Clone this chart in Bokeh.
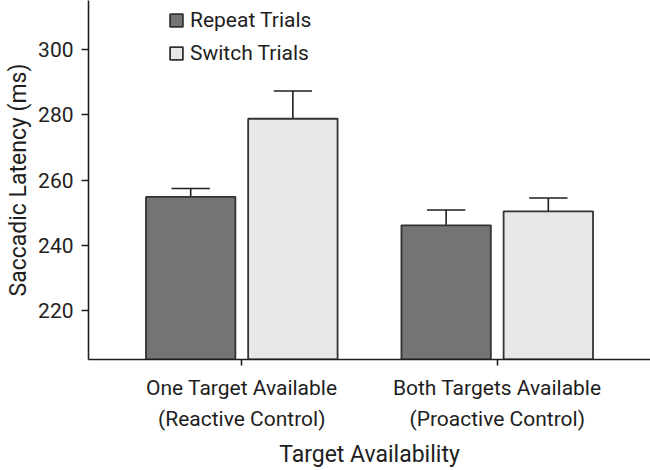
from bokeh.plotting import figure
from bokeh.models import Range1d, FixedTicker, Legend, LegendItem, ColumnDataSource
from bokeh.embed import file_html
from bokeh.resources import INLINE

categories = ["One Target Available\n(Reactive Control)", "Both Targets Available\n(Proactive Control)"]
series_names = ["Repeat Trials", "Switch Trials"]
repeat = [254.8, 246.1]
switch = [278.8, 250.4]
repeat_err = [2.6, 4.7]
switch_err = [8.5, 4.1]
y_ticks = [220, 240, 260, 280, 300]

FONT = "Roboto"
INK = "#1e1e1e"
Y0, Y1 = 204.94, 315.07

p = figure(width=650, height=470, output_backend="svg", toolbar_location=None,
           x_range=Range1d(0.4, 2.6), y_range=Range1d(Y0, Y1),
           min_border_left=88, min_border_right=0, min_border_top=0, min_border_bottom=110)
p.outline_line_color = None
p.xgrid.visible = False
p.ygrid.visible = False
p.background_fill_color = "white"
p.border_fill_color = "white"

centers = [i + 1 for i in range(len(categories))]
off, bw, cap = 0.2, 0.35, 0.075

def draw(vals, errs, dx, color):
    xs = [c + dx for c in centers]
    src = ColumnDataSource(dict(x=xs, top=vals, up=[v + e for v, e in zip(vals, errs)],
                                cl=[x - cap for x in xs], cr=[x + cap for x in xs]))
    p.segment(x0="x", y0="top", x1="x", y1="up", source=src, line_color=INK, line_width=1.6)
    p.segment(x0="cl", y0="up", x1="cr", y1="up", source=src, line_color=INK, line_width=1.6)
    r = p.vbar(x="x", top="top", bottom=Y0, width=bw, source=src,
               fill_color=color, line_color="#333333", line_width=1.8)
    return r

r1 = draw(repeat, repeat_err, -off, "#747474")
r2 = draw(switch, switch_err, off, "#e8e8e8")

legend = Legend(items=[LegendItem(label=series_names[0], renderers=[r1]),
                       LegendItem(label=series_names[1], renderers=[r2])],
                location=(80, 293), orientation="vertical")
legend.background_fill_alpha = 0
legend.border_line_color = None
legend.padding = 0
legend.margin = 0
legend.spacing = 7
legend.label_height = 26
legend.glyph_width = 16
legend.glyph_height = 16
legend.label_standoff = 6
legend.label_text_font = FONT
legend.label_text_font_size = "21px"
legend.label_text_color = INK
p.add_layout(legend, "center")

for ax in (p.xaxis[0], p.yaxis[0]):
    ax.axis_line_color = INK
    ax.axis_line_width = 1.6
    ax.major_tick_line_color = INK
    ax.major_tick_line_width = 1.6
    ax.minor_tick_line_color = None
    ax.major_tick_in = 0
    ax.major_label_text_font = FONT
    ax.major_label_text_color = INK
    ax.axis_label_text_font = FONT
    ax.axis_label_text_font_style = "normal"
    ax.axis_label_text_color = INK

p.yaxis.ticker = FixedTicker(ticks=y_ticks)
p.yaxis.major_tick_out = 7
p.yaxis.major_label_standoff = 8
p.yaxis.major_label_text_font_size = "21px"
p.yaxis.axis_label = "Saccadic Latency (ms)"
p.yaxis.axis_label_text_font_size = "23px"
p.yaxis.axis_label_standoff = 3

p.xaxis.ticker = FixedTicker(ticks=centers)
p.xaxis.major_label_overrides = {c: lab for c, lab in zip(centers, categories)}
p.xaxis.major_tick_out = 6
p.xaxis.major_label_standoff = 10
p.xaxis.major_label_text_font_size = "21px"
p.xaxis.major_label_text_line_height = 1.3
p.xaxis.axis_label = "Target Availability"
p.xaxis.axis_label_text_font_size = "23px"
p.xaxis.axis_label_standoff = 7

open("out.html", "w").write(file_html(p, INLINE))
